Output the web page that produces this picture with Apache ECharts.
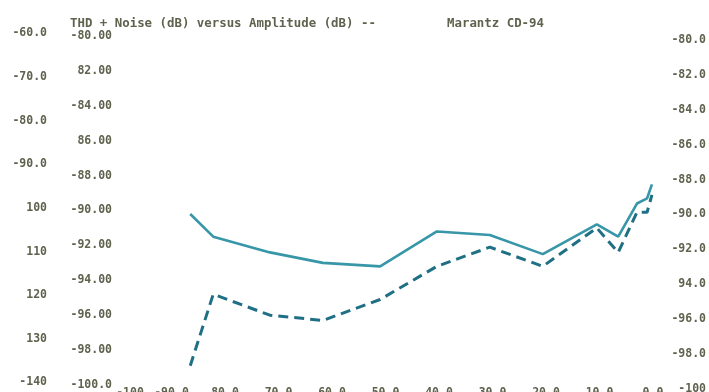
<!DOCTYPE html>
<html>
<head>
<meta charset="utf-8">
<script src="https://cdn.jsdelivr.net/npm/echarts@6/dist/echarts.min.js"></script>
<style>
  html, body { margin: 0; padding: 0; background: #ffffff; }
  #chart { width: 709px; height: 392px; }
</style>
</head>
<body>
<div id="chart"></div>
<script>
// Amplitude (dB) sweep points and THD+N readings (dB)
const amplitude = [-86.5, -82.2, -71.6, -61.7, -51.0, -40.4, -30.5, -20.6, -10.5, -6.5, -3.0, -1.1, -0.2];
const leftChannel = [-90.2, -91.5, -92.4, -93.0, -93.2, -91.2, -91.4, -92.5, -90.8, -91.5, -89.6, -89.3, -88.5];
const rightChannel = [-98.9, -94.8, -96.0, -96.3, -95.1, -93.2, -92.1, -93.2, -91.0, -92.4, -90.1, -90.1, -89.1];

// Tick labels as printed on the plotter output
const xTickValues = [-100, -90, -80, -70, -60, -50, -40, -30, -20, -10, 0];
const xTickLabels = ['-100', '-90.0', '80.0', '70.0', '60.0', '50.0', '40.0', '30.0', '20.0', '10.0', '0.0'];
const innerTickValues = [-80, -82, -84, -86, -88, -90, -92, -94, -96, -98, -100];
const innerTickLabels = ['-80.00', '82.00', '-84.00', '86.00', '-88.00', '-90.00', '-92.00', '-94.00', '-96.00', '-98.00', '-100.0'];
const outerTickValues = [-60, -70, -80, -90, -100, -110, -120, -130, -140];
const outerTickLabels = ['-60.0', '-70.0', '-80.0', '-90.0', '100', '110', '120', '130', '-140'];
const rightTickValues = [-80, -82, -84, -86, -88, -90, -92, -94, -96, -98, -100];
const rightTickLabels = ['-80.0', '-82.0', '-84.0', '-86.0', '-88.0', '-90.0', '-92.0', '94.0', '-96.0', '-98.0', '-100'];

const titleText = 'THD + Noise (dB) versus Amplitude (dB) --';
const deviceText = 'Marantz CD-94';

function lookup(values, labels) {
  return function (v) {
    for (let i = 0; i < values.length; i++) {
      if (Math.abs(values[i] - v) < 1e-6) return labels[i];
    }
    return '';
  };
}

const FONT = 'DejaVu Sans Mono';
const INK = '#60624e';
const baseLabel = { color: INK, fontFamily: FONT, fontWeight: 'bold', fontSize: 11.5 };
const hidden = { show: false };

// wrap a label in a rich style so it can be nudged off its tick
function nudged(fmt) {
  return function (v) { return '{n|' + fmt(v) + '}'; };
}

const chart = echarts.init(document.getElementById('chart'), null, { renderer: 'canvas' });
const xFmt = lookup(xTickValues, xTickLabels);

chart.setOption({
  animation: false,
  backgroundColor: '#ffffff',
  title: [
    { text: titleText, left: 70, top: 18, padding: 0,
      textStyle: { color: INK, fontFamily: FONT, fontWeight: 'bold', fontSize: 12.4 } },
    { text: deviceText, left: 447, top: 18, padding: 0,
      textStyle: { color: INK, fontFamily: FONT, fontWeight: 'bold', fontSize: 12.4 } }
  ],
  grid: { left: 118, right: 56, top: 36, bottom: 7, containLabel: false, outerBoundsMode: 'none' },
  xAxis: {
    type: 'value', min: -100, max: 0, interval: 10,
    axisLine: hidden, axisTick: hidden, splitLine: hidden,
    axisLabel: Object.assign({}, baseLabel, {
      margin: 2, verticalAlign: 'top',
      formatter: function (v) {
        const t = xFmt(v);
        return v === -100 ? '{first|' + t + '}' : t;
      },
      rich: { first: Object.assign({}, baseLabel, { padding: [0, 0, 0, 24] }) }
    })
  },
  yAxis: [
    {
      type: 'value', min: -100, max: -80, interval: 2, position: 'left',
      axisLine: hidden, axisTick: hidden, splitLine: hidden,
      axisLabel: Object.assign({}, baseLabel, { margin: 6, formatter: lookup(innerTickValues, innerTickLabels) })
    },
    {
      type: 'value', min: -140, max: -60, interval: 10, position: 'left', offset: 65,
      axisLine: hidden, axisTick: hidden, splitLine: hidden,
      axisLabel: Object.assign({}, baseLabel, { margin: 6,
        formatter: nudged(lookup(outerTickValues, outerTickLabels)),
        rich: { n: Object.assign({}, baseLabel, { padding: [0, 0, 5, 0] }) } })
    },
    {
      type: 'value', min: -100, max: -80, interval: 2, position: 'right',
      axisLine: hidden, axisTick: hidden, splitLine: hidden,
      axisLabel: Object.assign({}, baseLabel, { margin: 53, align: 'right',
        formatter: nudged(lookup(rightTickValues, rightTickLabels)),
        rich: { n: Object.assign({}, baseLabel, { padding: [8, 0, 0, 0] }) } })
    }
  ],
  series: [
    {
      type: 'line', yAxisIndex: 0, symbol: 'none', silent: true,
      data: amplitude.map((a, i) => [a, leftChannel[i]]),
      lineStyle: { color: '#3796a8', width: 2.6 }
    },
    {
      type: 'line', yAxisIndex: 0, symbol: 'none', silent: true,
      data: amplitude.map((a, i) => [a, rightChannel[i]]),
      lineStyle: { color: '#1f7084', width: 3, type: [10, 6] }
    }
  ]
});
</script>
</body>
</html>
